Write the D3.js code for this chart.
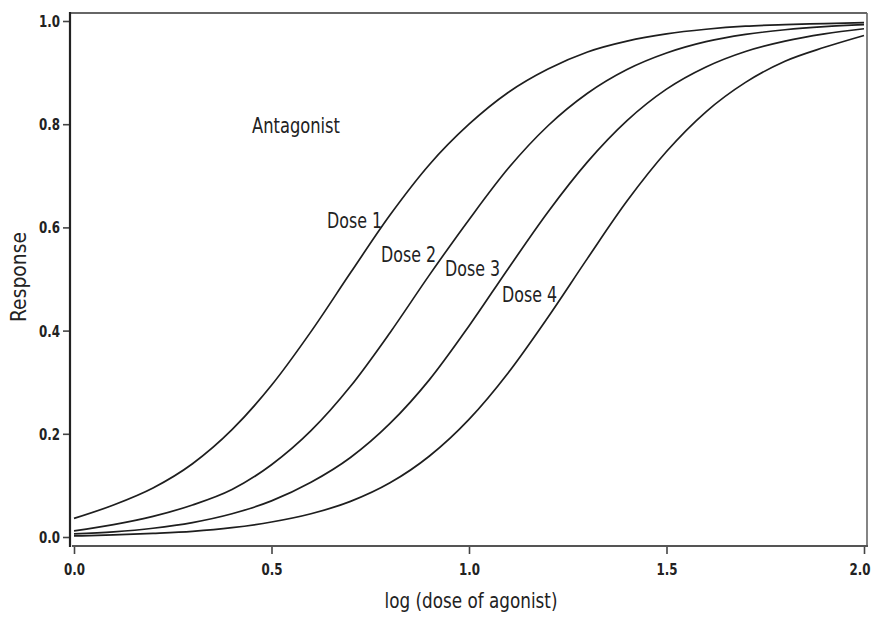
<!DOCTYPE html>
<html>
<head>
<meta charset="utf-8">
<script src="https://cdn.jsdelivr.net/npm/d3@7"></script>
<style>
  html, body { margin: 0; padding: 0; background: #fff; }
  svg { display: block; }
  .cond { font-family: "Liberation Sans Narrow", "DejaVu Sans Condensed", "Roboto", sans-serif; }
</style>
</head>
<body>
<svg id="chart" width="874" height="619"></svg>
<script>
// ---- data ----
const logDose = [0.0, 0.1, 0.2, 0.3, 0.4, 0.5, 0.6, 0.7, 0.8, 0.9, 1.0,
                 1.1, 1.2, 1.3, 1.4, 1.5, 1.6, 1.7, 1.8, 1.9, 2.0];
const dose1 = [0.036, 0.062, 0.095, 0.142, 0.208, 0.294, 0.398, 0.512, 0.624, 0.722, 0.800,
               0.862, 0.907, 0.940, 0.961, 0.975, 0.984, 0.990, 0.993, 0.995, 0.997];
const dose2 = [0.012, 0.024, 0.040, 0.062, 0.092, 0.140, 0.206, 0.292, 0.396, 0.508, 0.615,
               0.715, 0.797, 0.860, 0.906, 0.938, 0.960, 0.974, 0.983, 0.989, 0.993];
const dose3 = [0.006, 0.010, 0.017, 0.028, 0.045, 0.070, 0.106, 0.154, 0.220, 0.305, 0.409,
               0.521, 0.630, 0.727, 0.807, 0.868, 0.911, 0.941, 0.961, 0.975, 0.985];
const dose4 = [0.002, 0.004, 0.007, 0.011, 0.018, 0.029, 0.045, 0.069, 0.105, 0.157, 0.228,
               0.319, 0.426, 0.540, 0.651, 0.747, 0.824, 0.881, 0.922, 0.949, 0.972];
const seriesNames = ["Dose 1", "Dose 2", "Dose 3", "Dose 4"];
const xTicks = [0.0, 0.5, 1.0, 1.5, 2.0];
const yTicks = [0.0, 0.2, 0.4, 0.6, 0.8, 1.0];
const xTitle = "log (dose of agonist)";
const yTitle = "Response";
const annotation = "Antagonist";

// ---- drawing ----
const svg = d3.select("#chart");
const x = d3.scaleLinear().domain([0, 2]).range([74, 864]);
const y = d3.scaleLinear().domain([0, 1]).range([537, 21]);

// frame
svg.append("line").attr("x1", 70).attr("x2", 867).attr("y1", 13).attr("y2", 13)
  .attr("stroke", "#333").attr("stroke-width", 1.6);
svg.append("line").attr("x1", 867).attr("x2", 867).attr("y1", 13).attr("y2", 547)
  .attr("stroke", "#666").attr("stroke-width", 1.6);

// axes
const yAxis = d3.axisLeft(y).tickValues(yTicks).tickFormat(d3.format(".1f"))
  .tickSize(7).tickSizeOuter(0).tickPadding(3);
const gy = svg.append("g").attr("transform", "translate(70,0)").call(yAxis);
gy.select(".domain").remove();
gy.append("line").attr("x1", 0).attr("x2", 0).attr("y1", 12).attr("y2", 547)
  .attr("stroke", "#222").attr("stroke-width", 2.2);

const xAxis = d3.axisBottom(x).tickValues(xTicks).tickFormat(d3.format(".1f"))
  .tickSize(8).tickSizeOuter(0).tickPadding(10);
const gx = svg.append("g").attr("transform", "translate(0,546)").call(xAxis);
gx.select(".domain").remove();
gx.append("line").attr("x1", 72).attr("x2", 868).attr("y1", 0).attr("y2", 0)
  .attr("stroke", "#555").attr("stroke-width", 2.2);

svg.selectAll(".tick line").attr("stroke", "#444").attr("stroke-width", 1.6);
svg.selectAll(".tick text")
  .attr("class", "cond")
  .attr("font-size", 15).attr("font-weight", "bold").attr("fill", "#222")
  .attr("textLength", 21).attr("lengthAdjust", "spacingAndGlyphs");
gy.selectAll(".tick text").attr("dy", "0.36em");
// keep the last x label inside the page
gx.selectAll(".tick text").filter(d => d === 2.0)
  .attr("text-anchor", "end").attr("x", 6);

// curves
const line = d3.line().x((d, i) => x(logDose[i])).y(d => y(d)).curve(d3.curveMonotoneX);
[dose1, dose2, dose3, dose4].forEach(s => {
  svg.append("path").datum(s).attr("d", line)
    .attr("fill", "none").attr("stroke", "#1e1e1e").attr("stroke-width", 1.7);
});

// annotations
svg.append("text").attr("class", "cond").attr("x", 252).attr("y", 133)
  .attr("font-size", 21).attr("fill", "#222")
  .attr("textLength", 88).attr("lengthAdjust", "spacingAndGlyphs").text(annotation);

const labelPos = [[327, 228], [381, 262], [445, 276], [502, 302]];
seriesNames.forEach((n, i) => {
  svg.append("text").attr("class", "cond").attr("x", labelPos[i][0]).attr("y", labelPos[i][1])
    .attr("font-size", 21).attr("fill", "#222")
    .attr("textLength", 55).attr("lengthAdjust", "spacingAndGlyphs").text(n);
});

// axis titles
svg.append("text").attr("class", "cond").attr("x", 471).attr("y", 608)
  .attr("text-anchor", "middle").attr("font-size", 21).attr("fill", "#222")
  .attr("textLength", 173).attr("lengthAdjust", "spacingAndGlyphs").text(xTitle);
svg.append("text").attr("class", "cond")
  .attr("transform", "translate(26,277) rotate(-90)")
  .attr("text-anchor", "middle").attr("font-size", 21).attr("fill", "#222")
  .attr("textLength", 90).attr("lengthAdjust", "spacingAndGlyphs").text(yTitle);
</script>
</body>
</html>
